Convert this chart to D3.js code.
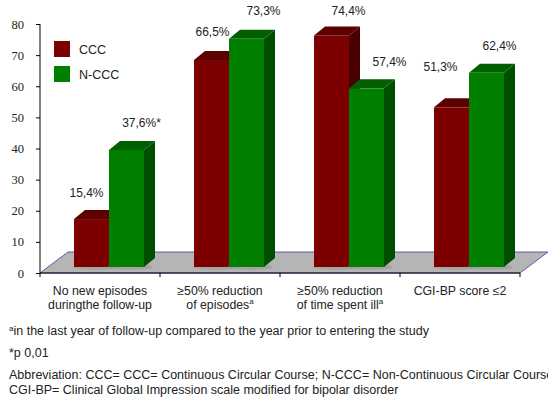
<!DOCTYPE html>
<html>
<head>
<meta charset="utf-8">
<script src="https://cdnjs.cloudflare.com/ajax/libs/d3/7.8.5/d3.min.js"></script>
<style>
  body { margin: 0; background: #fff; }
  svg { display: block; }
</style>
</head>
<body>
<div id="grafico"></div>
<script>
const categorias = ['g1', 'g2', 'g3', 'g4'];
const etiquetasCat = [
  ['No new episodes', 'duringthe follow-up', ''],
  ['\u226550% reduction', 'of episodes', 'a'],
  ['\u226550% reduction', 'of time spent ill', 'a'],
  ['CGI-BP score \u22642', '', '']
];
const series = ['CCC', 'N-CCC'];
const valoresCCC = [15.4, 66.5, 74.4, 51.3];
const valoresNCCC = [37.6, 73.3, 57.4, 62.4];
const textosCCC = ['15,4%', '66,5%', '74,4%', '51,3%'];
const textosNCCC = ['37,6%*', '73,3%', '57,4%', '62,4%'];
const ticksY = [0, 10, 20, 30, 40, 50, 60, 70, 80];

// ajustes manuales de las etiquetas de valor (dx, dy desde la cara superior)
const ajusteCCC = [[-5, -22], [1, -24], [17, -20], [-11, -36]];
const ajusteNCCC = [[15, -23], [17, -24], [23, -22], [13, -23]];

const colores = {
  'CCC': { frente: '#7d0000', arriba: '#5c0000', lado: '#4a0000' },
  'N-CCC': { frente: '#007f00', arriba: '#006000', lado: '#004e00' }
};

const SANS = '"Liberation Sans", Arial, sans-serif';
const SERIF = '"Liberation Serif", "Times New Roman", serif';

const W = 548, H = 399;
const svg = d3.select('#grafico').append('svg')
  .attr('width', W).attr('height', H);

const x = d3.scaleBand().domain(categorias).range([40, 520]);
const y = d3.scaleLinear().domain([0, 80]).range([273, 24]);
const xs = d3.scaleBand().domain(series).range([0, 70]);

const piso = { dx: 28, dy: -21 };
const base = { dx: 9, dy: -6 };
const prof = { dx: 11, dy: -9 };

// piso gris
const x0 = x.range()[0], x1 = x.range()[1], y0 = y(0);
svg.append('path')
  .attr('d', `M${x0},${y0}L${x0 + piso.dx},${y0 + piso.dy}L${x1 + piso.dx},${y0 + piso.dy}L${x1},${y0}Z`)
  .attr('fill', '#b5b5b5')
  .attr('stroke', '#5a5aa8')
  .attr('stroke-width', 1);

// barras 3D
const datos = [];
categorias.forEach((c, i) => {
  datos.push({ c, s: 'CCC', v: valoresCCC[i], t: textosCCC[i], a: ajusteCCC[i] });
  datos.push({ c, s: 'N-CCC', v: valoresNCCC[i], t: textosNCCC[i], a: ajusteNCCC[i] });
});

const bw = xs.bandwidth();
datos.forEach(d => {
  const left = x(d.c) + x.bandwidth() / 2 - 35 + xs(d.s) + base.dx;
  const right = left + bw;
  const top = y(d.v) + base.dy;
  const bot = y(0) + base.dy;
  d.left = left; d.top = top;
  const col = colores[d.s];
  const g = svg.append('g');
  // sombra
  g.append('ellipse')
    .attr('cx', (left + right) / 2 + 4).attr('cy', bot)
    .attr('rx', bw * 0.65).attr('ry', 3)
    .attr('fill', '#9a9a9a').attr('opacity', 0.6);
  g.append('path')
    .attr('d', `M${right},${bot}L${right + prof.dx},${bot + prof.dy}L${right + prof.dx},${top + prof.dy}L${right},${top}Z`)
    .attr('fill', col.lado);
  g.append('path')
    .attr('d', `M${left},${top}L${left + prof.dx},${top + prof.dy}L${right + prof.dx},${top + prof.dy}L${right},${top}Z`)
    .attr('fill', col.arriba);
  g.append('rect')
    .attr('x', left).attr('y', top)
    .attr('width', bw).attr('height', bot - top)
    .attr('fill', col.frente);
});

// etiquetas de valor
svg.selectAll('.valor')
  .data(datos)
  .enter().append('text')
  .attr('class', 'valor')
  .attr('x', d => d.left + bw / 2 + d.a[0])
  .attr('y', d => d.top + d.a[1])
  .attr('text-anchor', 'middle')
  .style('font-family', SANS)
  .style('font-size', '12px')
  .attr('fill', '#222')
  .text(d => d.t);

// eje Y
const ejeY = svg.append('g')
  .attr('transform', 'translate(40,0)')
  .attr('font-family', null)
  .call(d3.axisLeft(y).tickValues(ticksY).tickSize(4).tickPadding(12));
ejeY.attr('font-family', SERIF).attr('font-size', 12);
ejeY.select('.domain').attr('d', `M0,${y(80)}V${y(0)}`).attr('stroke', '#000');
ejeY.selectAll('line').attr('stroke', '#000');
ejeY.selectAll('text')
  .style('font-family', SERIF)
  .style('font-size', '12.5px')
  .attr('fill', '#222');

// eje X
const ejeX = svg.append('g')
  .attr('transform', `translate(0,${y(0)})`);
ejeX.append('line')
  .attr('x1', x0).attr('x2', x1).attr('stroke', '#000');
const bordes = categorias.map(c => x(c)).concat([x1]);
ejeX.selectAll('.tick')
  .data(bordes)
  .enter().append('line')
  .attr('x1', d => d).attr('x2', d => d)
  .attr('y1', 0).attr('y2', 4)
  .attr('stroke', '#000');

// etiquetas de categoria
categorias.forEach((c, i) => {
  const cx = x(c) + x.bandwidth() / 2;
  const [l1, l2, sup] = etiquetasCat[i];
  svg.append('text')
    .attr('x', cx).attr('y', 295)
    .attr('text-anchor', 'middle')
    .style('font-family', SANS)
    .style('font-size', '12.3px')
    .attr('fill', '#222')
    .text(l1);
  if (l2) {
    const t2 = svg.append('text')
      .attr('x', cx).attr('y', 309)
      .attr('text-anchor', 'middle')
      .style('font-family', SANS)
      .style('font-size', '12.3px')
      .attr('fill', '#222');
    t2.append('tspan').text(l2);
    if (sup) {
      t2.append('tspan').attr('dy', -5).style('font-size', '8px').text(sup);
    }
  }
});

// leyenda
const leyenda = svg.append('g');
series.forEach((s, i) => {
  leyenda.append('rect')
    .attr('x', 54).attr('y', 41 + i * 25)
    .attr('width', 16).attr('height', 16)
    .attr('fill', colores[s].frente);
  leyenda.append('text')
    .attr('x', 79).attr('y', 54 + i * 25)
    .style('font-family', SANS)
    .style('font-size', '12.5px')
    .attr('fill', '#222')
    .text(s);
});

// notas al pie
const notas = svg.append('g')
  .style('font-family', SANS)
  .style('font-size', '12.5px')
  .attr('fill', '#222');
const n1 = notas.append('text').attr('x', 9).attr('y', 335);
n1.append('tspan').attr('dy', -4).style('font-size', '8px').text('a');
n1.append('tspan').attr('dy', 4).text('in the last year of follow-up compared to the year prior to entering the study');
notas.append('text').attr('x', 9).attr('y', 357).text('*p 0,01');
notas.append('text').attr('x', 9).attr('y', 379)
  .text('Abbreviation: CCC= CCC= Continuous Circular Course; N-CCC= Non-Continuous Circular Course;');
notas.append('text').attr('x', 9).attr('y', 394)
  .text('CGI-BP= Clinical Global Impression scale modified for bipolar disorder');
</script>
</body>
</html>
